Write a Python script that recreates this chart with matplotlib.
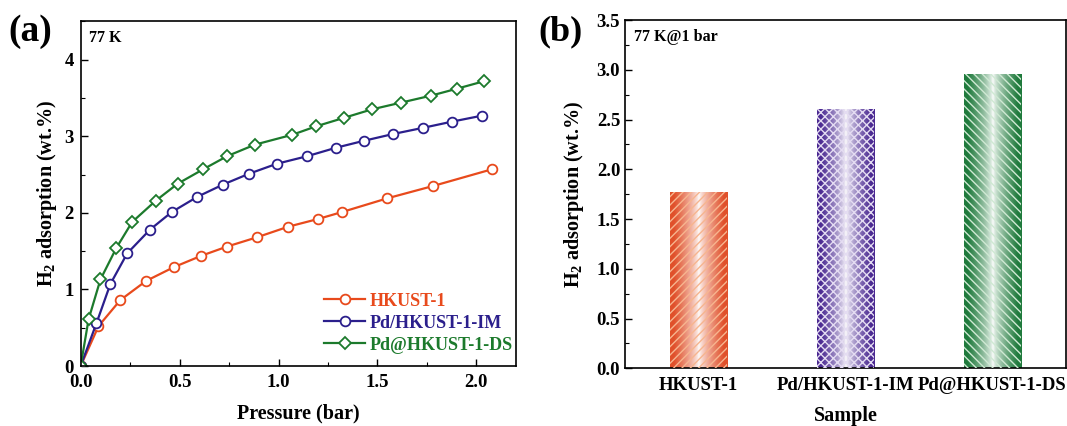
import numpy as np
import matplotlib
matplotlib.use("Agg")
import matplotlib.pyplot as plt
from matplotlib.ticker import MultipleLocator, FormatStrFormatter
from matplotlib.colors import to_rgb

plt.rcParams['font.family'] = 'Liberation Serif'
plt.rcParams['font.weight'] = 'bold'
plt.rcParams['axes.labelweight'] = 'bold'
plt.rcParams['mathtext.fontset'] = 'custom'
plt.rcParams['mathtext.rm'] = 'Liberation Serif:bold'
plt.rcParams['mathtext.it'] = 'Liberation Serif:bold'
plt.rcParams['mathtext.bf'] = 'Liberation Serif:bold'
plt.rcParams['hatch.linewidth'] = 1.0

# (a) isotherms at 77 K
p_hkust = [0, 0.09, 0.20, 0.33, 0.47, 0.61, 0.74, 0.89, 1.05, 1.20, 1.32, 1.55, 1.78, 2.08]
h_hkust = [0, 0.52, 0.86, 1.11, 1.29, 1.44, 1.56, 1.68, 1.82, 1.92, 2.01, 2.19, 2.35, 2.57]

p_im = [0, 0.08, 0.15, 0.235, 0.35, 0.46, 0.59, 0.72, 0.85, 0.99, 1.145, 1.29, 1.43, 1.58, 1.73, 1.875, 2.03]
h_im = [0, 0.56, 1.07, 1.47, 1.78, 2.01, 2.21, 2.37, 2.51, 2.64, 2.74, 2.85, 2.94, 3.03, 3.11, 3.19, 3.27]

p_ds = [0, 0.04, 0.10, 0.18, 0.26, 0.38, 0.49, 0.62, 0.74, 0.88, 1.07, 1.19, 1.33, 1.47, 1.62, 1.77, 1.90, 2.04]
h_ds = [0, 0.61, 1.13, 1.54, 1.88, 2.16, 2.38, 2.57, 2.74, 2.89, 3.02, 3.13, 3.24, 3.35, 3.44, 3.53, 3.62, 3.72]

# (b) uptake at 77 K and 1 bar
samples = ['HKUST-1', 'Pd/HKUST-1-IM', 'Pd@HKUST-1-DS']
uptake_1bar = [1.77, 2.61, 2.96]

line_colors = ['#e84a1c', '#2b1f8c', '#1c7a2c']
bar_colors = ['#e0502a', '#4b2a92', '#1f7a3c']
hatch_colors = ['#f7b58f', '#e4dcf2', '#cfe9d3']
hatches = ['////', 'xxxx', '\\\\\\\\']

fig = plt.figure(figsize=(10.67, 4.26), dpi=100)
ax1 = fig.add_axes([0.0756, 0.1408, 0.408, 0.809])
ax2 = fig.add_axes([0.5858, 0.1354, 0.413, 0.8176])

# ---- panel (a)
ax1.plot(p_hkust, h_hkust, '-o', color=line_colors[0], mfc='white', mec=line_colors[0],
         ms=7, mew=1.3, lw=1.6, label='HKUST-1')
ax1.plot(p_im, h_im, '-o', color=line_colors[1], mfc='white', mec=line_colors[1],
         ms=7, mew=1.3, lw=1.6, label='Pd/HKUST-1-IM')
ax1.plot(p_ds, h_ds, '-D', color=line_colors[2], mfc='white', mec=line_colors[2],
         ms=6, mew=1.3, lw=1.6, label='Pd@HKUST-1-DS')
ax1.set_xlim(0, 2.2)
ax1.set_ylim(0, 4.5)
ax1.xaxis.set_minor_locator(MultipleLocator(0.25))
ax1.yaxis.set_major_locator(MultipleLocator(1))
ax1.yaxis.set_minor_locator(MultipleLocator(0.5))
ax1.set_xticks([0, 0.5, 1.0, 1.5, 2.0])
ax1.set_xticklabels(['0.0', '0.5', '1.0', '1.5', '2.0'])
ax1.set_xlabel('Pressure (bar)', fontsize=14.5, labelpad=9)
ax1.set_ylabel('H$_2$ adsorption (wt.%)', fontsize=14.5, labelpad=4)
ax1.text(0.02, 0.975, '77 K', transform=ax1.transAxes, fontsize=11.5, va='top', ha='left')
leg = ax1.legend(loc='lower right', bbox_to_anchor=(1.01, 0.015), frameon=False, fontsize=13,
                 handlelength=2.3, handletextpad=0.25, labelspacing=0.28, borderaxespad=0)
for txt, c in zip(leg.get_texts(), line_colors):
    txt.set_color(c)

# ---- panel (b)
x = np.arange(len(samples))
width = 0.39
bars = ax2.bar(x, uptake_1bar, width, color='none', edgecolor='none', zorder=2)
u = np.linspace(0, 1, 200)
mix = np.clip(np.abs(2 * u - 1) * 1.15, 0, 1) ** 0.7
for b, col in zip(bars, bar_colors):
    rgb = np.array(to_rgb(col))
    grad = 1 - mix[:, None] * (1 - rgb[None, :])
    img = ax2.imshow(grad[None, :, :], extent=[b.get_x(), b.get_x() + b.get_width(), 0, b.get_height()],
                     aspect='auto', zorder=2, interpolation='bilinear')
    img.set_clip_path(b)
for xi, val, hc, ht in zip(x, uptake_1bar, hatch_colors, hatches):
    ax2.bar(xi, val, width, fill=False, edgecolor=hc, hatch=ht, linewidth=0, zorder=3)
ax2.set_xlim(-0.5, 2.5)
ax2.set_ylim(0, 3.5)
ax2.yaxis.set_major_locator(MultipleLocator(0.5))
ax2.yaxis.set_minor_locator(MultipleLocator(0.25))
ax2.yaxis.set_major_formatter(FormatStrFormatter('%.1f'))
ax2.set_xticks(x)
ax2.set_xticklabels(samples)
ax2.set_xlabel('Sample', fontsize=14.5, labelpad=9)
ax2.set_ylabel('H$_2$ adsorption (wt.%)', fontsize=14.5, labelpad=8)
ax2.text(0.02, 0.975, '77 K@1 bar', transform=ax2.transAxes, fontsize=11.5, va='top', ha='left')

for ax in (ax1, ax2):
    ax.tick_params(which='major', direction='in', length=5, width=1, labelsize=13.5)
    ax.tick_params(which='minor', direction='in', length=3, width=0.8)
    ax.tick_params(axis='x', pad=6)
    for s in ax.spines.values():
        s.set_linewidth(1.2)
ax1.tick_params(axis='y', pad=5)
ax2.tick_params(axis='x', which='minor', length=0)

fig.text(0.008, 0.925, '(a)', fontsize=27, va='center', ha='left')
fig.text(0.505, 0.925, '(b)', fontsize=26, va='center', ha='left')

fig.savefig('out.png', dpi=100)
